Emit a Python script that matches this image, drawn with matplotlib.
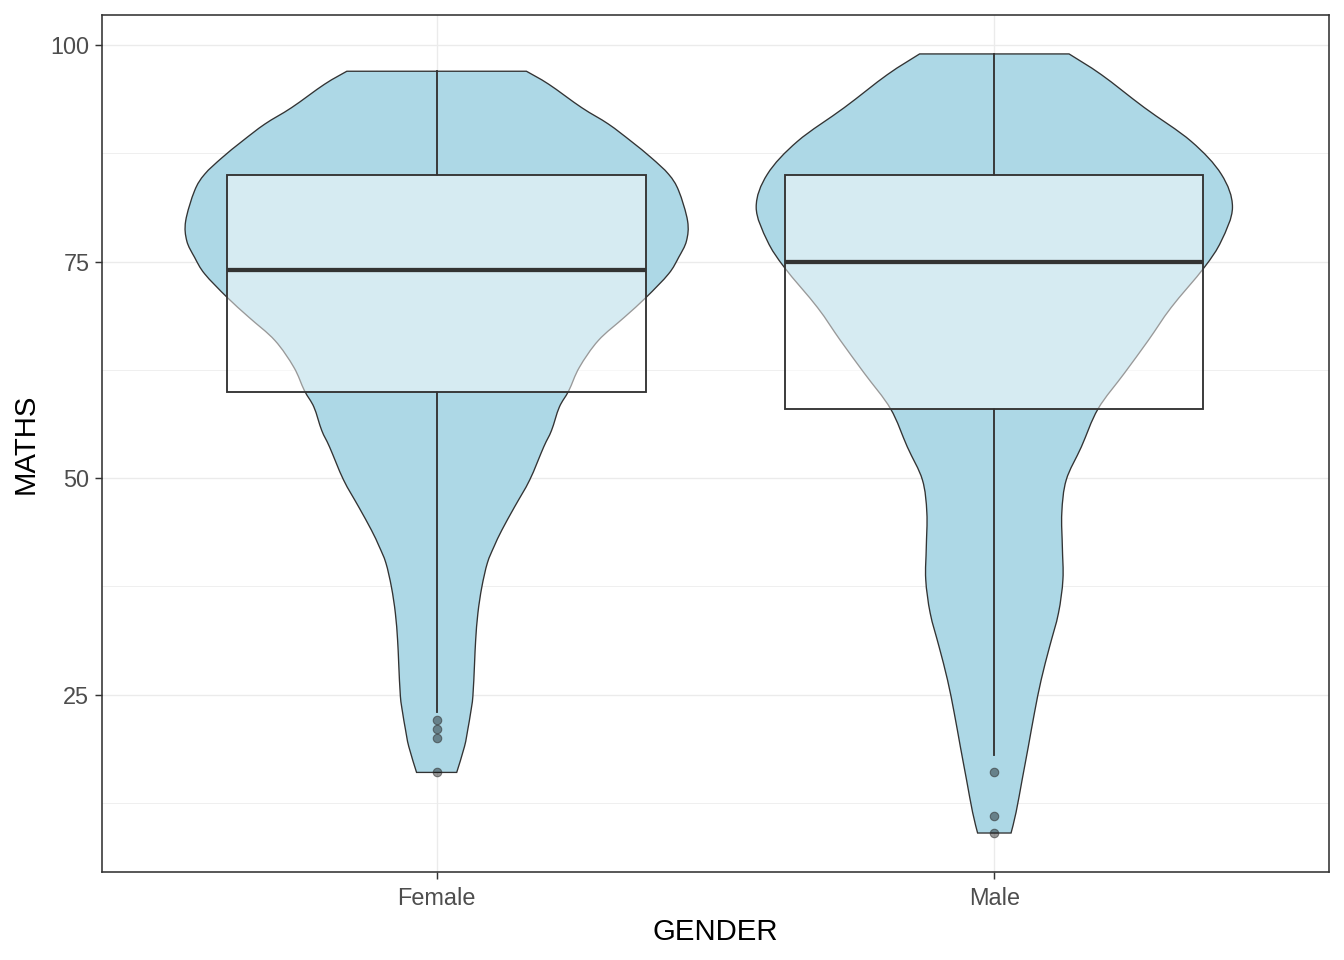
import numpy as np
import matplotlib
matplotlib.use("Agg")
import matplotlib.pyplot as plt
from matplotlib.path import Path
from matplotlib.patches import PathPatch

plt.rcParams['font.family'] = ['Liberation Sans', 'DejaVu Sans']

groups = ['Female', 'Male']

# violin outline: score level and half-width (x units)
female_y = [97.0, 95.5, 92.8, 90.9, 88.9, 87.0, 85.1, 83.2, 79.7, 77.4, 75.5, 73.6,
            70.9, 68.6, 65.9, 62.8, 60.1, 58.2, 55.5, 53.6, 49.8, 46.7, 44.0, 42.1,
            40.2, 37.4, 34.4, 31.3, 28.6, 24.8, 22.9, 21.0, 19.0, 16.0]
female_hw = [0.161, 0.201, 0.260, 0.308, 0.349, 0.385, 0.416, 0.434, 0.450, 0.448, 0.434, 0.416,
             0.376, 0.337, 0.290, 0.256, 0.237, 0.220, 0.206, 0.192, 0.167, 0.140, 0.117, 0.103,
             0.091, 0.081, 0.074, 0.070, 0.068, 0.065, 0.061, 0.056, 0.050, 0.036]

male_y = [99.0, 96.6, 92.8, 88.9, 85.1, 81.3, 77.4, 74.3, 69.7, 65.9, 62.1, 58.0,
          53.6, 49.8, 46.0, 42.0, 38.3, 34.4, 30.5, 26.7, 22.9, 19.0, 15.2, 11.4, 9.0]
male_hw = [0.134, 0.192, 0.269, 0.353, 0.407, 0.427, 0.407, 0.376, 0.317, 0.276, 0.233, 0.186,
           0.156, 0.129, 0.121, 0.122, 0.123, 0.115, 0.099, 0.084, 0.072, 0.061, 0.050, 0.039, 0.030]

# boxplot stats: lower whisker, Q1, median, Q3, upper whisker
whisk_lo = [23, 18]
q1 = [60, 58]
med = [74, 75]
q3 = [85, 85]
whisk_hi = [97, 99]
outliers = [[22, 21, 20, 16], [16, 11, 9]]


def smooth_segments(pts):
    # Catmull-Rom through the points, as cubic bezier pieces
    pts = np.asarray(pts)
    n = len(pts)
    verts, codes = [], []
    for k in range(n - 1):
        p0 = pts[max(k - 1, 0)]
        p1 = pts[k]
        p2 = pts[k + 1]
        p3 = pts[min(k + 2, n - 1)]
        c1 = p1 + (p2 - p0) / 6
        c2 = p2 - (p3 - p1) / 6
        verts += [tuple(c1), tuple(c2), tuple(p2)]
        codes += [Path.CURVE4] * 3
    return verts, codes


def violin_path(c, vy, vh):
    vy = np.array(vy)
    vh = np.array(vh)
    right = np.column_stack([c + vh, vy])
    left = np.column_stack([c - vh, vy])[::-1]
    verts = [tuple(right[0])]
    codes = [Path.MOVETO]
    v, cd = smooth_segments(right)
    verts += v
    codes += cd
    verts.append(tuple(left[0]))
    codes.append(Path.LINETO)
    v, cd = smooth_segments(left)
    verts += v
    codes += cd
    verts.append(tuple(right[0]))
    codes.append(Path.CLOSEPOLY)
    return Path(verts, codes)


fig = plt.figure(figsize=(7, 5), dpi=192)
ax = fig.add_axes([0.0759, 0.0917, 0.9129, 0.8927])

edge = '#333333'
for i, (vy, vh) in enumerate([(female_y, female_hw), (male_y, male_hw)]):
    c = i + 1
    ax.add_patch(PathPatch(violin_path(c, vy, vh), facecolor='#ADD8E6', edgecolor=edge,
                           linewidth=0.5, zorder=2))

    # whiskers
    ax.plot([c, c], [q3[i], whisk_hi[i]], color=edge, linewidth=0.7, zorder=3)
    ax.plot([c, c], [q1[i], whisk_lo[i]], color=edge, linewidth=0.7, zorder=3)
    # box
    ax.add_patch(plt.Rectangle((c - 0.375, q1[i]), 0.75, q3[i] - q1[i],
                               facecolor=(1, 1, 1, 0.5), edgecolor=edge, linewidth=0.7, zorder=4))
    ax.plot([c - 0.375, c + 0.375], [med[i], med[i]], color=edge, linewidth=1.6,
            solid_capstyle='butt', zorder=5)
    ax.plot([c] * len(outliers[i]), outliers[i], 'o', markersize=3.2,
            markerfacecolor=(0, 0, 0, 0.4), markeredgecolor=(0.2, 0.2, 0.2, 0.6),
            markeredgewidth=0.4, zorder=6)

ax.set_xlim(0.4, 2.6)
ax.set_ylim(4.5, 103.5)
ax.set_xticks([1, 2])
ax.set_xticklabels(groups)
ax.set_yticks([25, 50, 75, 100])
ax.set_yticks([12.5, 37.5, 62.5, 87.5], minor=True)
ax.tick_params(axis='both', which='major', labelsize=8.8, labelcolor='#4D4D4D',
               color='#333333', length=2.75, width=0.55, pad=2)
ax.tick_params(axis='x', which='major', pad=3)
ax.tick_params(axis='y', which='minor', length=0)

ax.grid(which='major', color='#EBEBEB', linewidth=0.5, zorder=0)
ax.grid(which='minor', axis='y', color='#EBEBEB', linewidth=0.3, zorder=0)
ax.set_axisbelow(True)
for s in ax.spines.values():
    s.set_color('#333333')
    s.set_linewidth(0.6)

ax.set_xlabel('GENDER', fontsize=11, labelpad=3)
ax.set_ylabel('MATHS', fontsize=11, labelpad=4)

fig.savefig('out.png', dpi=192)
